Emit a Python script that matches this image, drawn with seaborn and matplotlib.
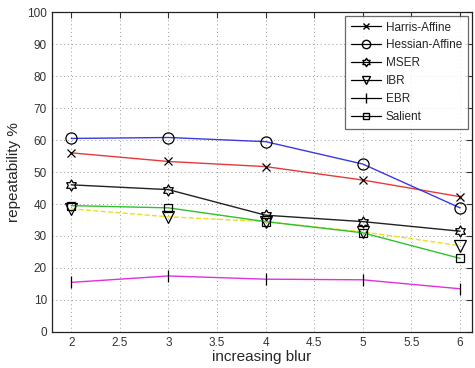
import numpy as np
import pandas as pd
import matplotlib
matplotlib.use('Agg')
import matplotlib.pyplot as plt
from matplotlib.path import Path
from matplotlib.lines import Line2D
import seaborn as sns

# data
blur = [2, 3, 4, 5, 6]
harris_affine = [56.0, 53.3, 51.7, 47.5, 42.3]
hessian_affine = [60.5, 60.8, 59.5, 52.5, 38.8]
mser = [46.0, 44.5, 36.5, 34.5, 31.5]
ibr = [38.5, 36.0, 34.5, 31.3, 27.0]
ebr = [15.5, 17.5, 16.5, 16.3, 13.5]
salient = [39.5, 38.8, 34.5, 31.0, 23.0]

labels = ['Harris-Affine', 'Hessian-Affine', 'MSER', 'IBR', 'EBR', 'Salient']
x_ticks = [2, 2.5, 3, 3.5, 4, 4.5, 5, 5.5, 6]
y_ticks = [0, 10, 20, 30, 40, 50, 60, 70, 80, 90, 100]

# six-pointed star like MATLAB's hexagram
ang = np.pi / 2 + np.arange(12) * np.pi / 6
rad = np.where(np.arange(12) % 2 == 0, 1.0, 0.58)
star = np.column_stack([rad * np.cos(ang), rad * np.sin(ang)])
hexagram = Path(np.vstack([star, star[:1]]), closed=True)

styles = {
    'Harris-Affine': dict(color='#e8393a', marker='x', ls='-', ms=5.5),
    'Hessian-Affine': dict(color='#3a3ae0', marker='o', ls='-', ms=8),
    'MSER': dict(color='#222222', marker=hexagram, ls='-', ms=8),
    'IBR': dict(color='#e8e020', marker='v', ls='--', ms=8),
    'EBR': dict(color='#e030e0', marker='|', ls='-', ms=9),
    'Salient': dict(color='#30c030', marker='s', ls='-', ms=6),
}

sns.set_style('white')
plt.rcParams['font.family'] = ['Liberation Sans', 'DejaVu Sans']

fig = plt.figure(figsize=(4.75, 3.68), dpi=100)
ax = fig.add_axes([0.109, 0.098, 0.884, 0.869])

series = [harris_affine, hessian_affine, mser, ibr, ebr, salient]
for name, vals in zip(labels, series):
    st = styles[name]
    sns.lineplot(x=blur, y=vals, ax=ax, color=st['color'], linestyle=st['ls'],
                 linewidth=1.0, marker=st['marker'], markersize=st['ms'],
                 markerfacecolor='none', markeredgecolor='black',
                 markeredgewidth=0.9, legend=False)

ax.set_xlim(1.8, 6.12)
ax.set_ylim(0, 100)
ax.set_xticks(x_ticks)
ax.set_xticklabels([f'{t:g}' for t in x_ticks])
ax.set_yticks(y_ticks)
ax.grid(True, color='#9a9a9a', linestyle=(0, (1, 3)), linewidth=0.7)
ax.tick_params(direction='in', length=4, top=True, right=True,
               labelsize=8.5, colors='#333333', pad=3.5)
for sp in ax.spines.values():
    sp.set_color('#222222')
    sp.set_linewidth(0.9)

ax.set_xlabel('increasing blur', fontsize=11, labelpad=1)
ax.set_ylabel('repeatability %', fontsize=11, labelpad=4)

handles = [Line2D([], [], color='black', linewidth=0.9, marker=styles[n]['marker'],
                  markersize=styles[n]['ms'] * 0.75, markerfacecolor='none',
                  markeredgecolor='black') for n in labels]
leg = ax.legend(handles, labels, loc='upper right', fontsize=8.5,
                frameon=True, fancybox=False, edgecolor='#444444',
                handlelength=2.6, borderpad=0.5, labelspacing=0.5,
                handletextpad=0.4, borderaxespad=0.3)
leg.get_frame().set_linewidth(0.9)

fig.savefig('out.png', dpi=100, facecolor='white')
